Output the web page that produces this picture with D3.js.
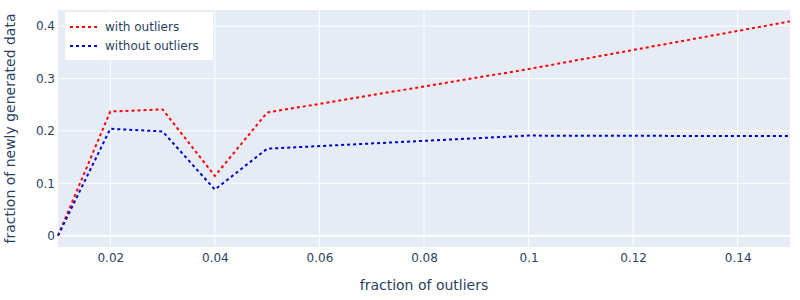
<!DOCTYPE html>
<html>
<head>
<meta charset="utf-8">
<script src="https://cdn.jsdelivr.net/npm/d3@7"></script>
<style>
  body { margin: 0; background: #fff; }
  text { font-family: "DejaVu Sans", Verdana, sans-serif; fill: #2a3f5f; }
</style>
</head>
<body>
<script>
// data
const fractions = [0.01, 0.02, 0.03, 0.04, 0.05, 0.1, 0.15];
const withOutliers = [0, 0.237, 0.241, 0.114, 0.235, 0.318, 0.409];
const withoutOutliers = [0, 0.204, 0.199, 0.088, 0.166, 0.191, 0.19];
const seriesNames = ["with outliers", "without outliers"];
const seriesColors = ["red", "mediumblue"];
const xTicks = [0.02, 0.04, 0.06, 0.08, 0.1, 0.12, 0.14];
const yTicks = [0, 0.1, 0.2, 0.3, 0.4];

const W = 800, H = 300;
const m = { left: 58, right: 10, top: 10, bottom: 53 };
const FONT = '"DejaVu Sans", Verdana, sans-serif';

const svg = d3.select("body").append("svg").attr("width", W).attr("height", H);

const x = d3.scaleLinear().domain([0.01, 0.15]).range([m.left, W - m.right]);
const y = d3.scaleLinear().domain([-0.0216, 0.4307]).range([H - m.bottom, m.top]);

svg.append("rect")
  .attr("x", m.left).attr("y", m.top)
  .attr("width", W - m.left - m.right).attr("height", H - m.top - m.bottom)
  .attr("fill", "#E5ECF6");

// grid
svg.append("g").selectAll("line").data(xTicks).enter().append("line")
  .attr("x1", d => x(d)).attr("x2", d => x(d))
  .attr("y1", m.top).attr("y2", H - m.bottom)
  .attr("stroke", "#fff").attr("stroke-width", 1);
svg.append("g").selectAll("line").data(yTicks).enter().append("line")
  .attr("x1", m.left).attr("x2", W - m.right)
  .attr("y1", d => y(d)).attr("y2", d => y(d))
  .attr("stroke", "#fff").attr("stroke-width", d => d === 0 ? 2 : 1);

// axes
const xAxis = svg.append("g").attr("transform", `translate(0,${H - m.bottom})`)
  .call(d3.axisBottom(x).tickValues(xTicks).tickSize(0).tickPadding(6).tickFormat(d3.format("~g")));
const yAxis = svg.append("g").attr("transform", `translate(${m.left},0)`)
  .call(d3.axisLeft(y).tickValues(yTicks).tickSize(0).tickPadding(3).tickFormat(d3.format("~g")));
[xAxis, yAxis].forEach(a => {
  a.select(".domain").remove();
  a.selectAll("text").style("font-family", FONT).style("font-size", "12px").attr("fill", "#2a3f5f");
});

svg.append("text").attr("x", (m.left + W - m.right) / 2).attr("y", 290)
  .attr("text-anchor", "middle").style("font-size", "14px").text("fraction of outliers");
svg.append("text").attr("transform", `translate(15,${(m.top + H - m.bottom) / 2}) rotate(-90)`)
  .attr("text-anchor", "middle").style("font-size", "14px").text("fraction of newly generated data");

// lines
const line = d3.line().x(d => x(d[0])).y(d => y(d[1]));
[withOutliers, withoutOutliers].forEach((vals, i) => {
  svg.append("path")
    .datum(fractions.map((f, j) => [f, vals[j]]))
    .attr("d", line)
    .attr("fill", "none")
    .attr("stroke", seriesColors[i])
    .attr("stroke-width", 2)
    .attr("stroke-dasharray", "3,3");
});

// legend
const lg = svg.append("g").attr("transform", "translate(65,12)");
lg.append("rect").attr("width", 148).attr("height", 48).attr("fill", "#fff");
seriesNames.forEach((name, i) => {
  const row = lg.append("g").attr("transform", `translate(0,${15 + i * 19})`);
  row.append("line").attr("x1", 5).attr("x2", 35).attr("y1", 0).attr("y2", 0)
    .attr("stroke", seriesColors[i]).attr("stroke-width", 2).attr("stroke-dasharray", "3,3");
  row.append("text").attr("x", 40).attr("y", 0).attr("dy", "0.35em")
    .style("font-size", "12px").text(name);
});
</script>
</body>
</html>
